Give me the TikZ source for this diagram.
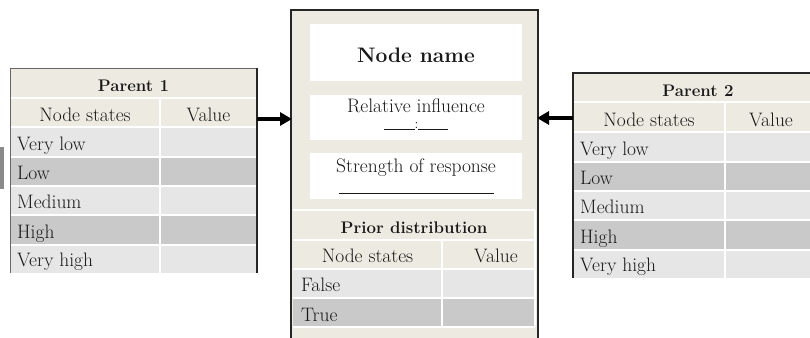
\documentclass[tikz,border=0pt]{standalone}
\usepackage{fontspec}
\usetikzlibrary{arrows.meta}
\definecolor{headfill}{RGB}{237,235,225}
\definecolor{rowlight}{RGB}{230,230,230}
\definecolor{rowdark}{RGB}{201,201,201}
\definecolor{inkcol}{RGB}{25,25,25}
\definecolor{sidegray}{RGB}{138,138,138}
\tikzset{
  txt/.style={font=\fontsize{19.5}{22}\selectfont, text=inkcol, inner sep=0pt, anchor=base},
  lbl/.style={txt, anchor=base west},
  hd/.style={font=\fontsize{16.8}{19}\selectfont\bfseries, text=inkcol, inner sep=0pt, anchor=base},
  sep/.style={draw=white, line width=1.6pt},
  frame/.style={draw=black!85, line width=1.6pt},
  thinframe/.style={draw=black!60, line width=1pt},
  box/.style={inner sep=0pt, outer sep=0pt},
  whitebox/.style={fill=white, inner sep=0pt, outer sep=0pt},
  conn/.style={line width=3.6pt, -{Triangle[length=12pt,width=13pt]}, shorten >=-1pt}
}
\begin{document}
\begin{tikzpicture}[x=1pt,y=-1pt]
\useasboundingbox (0,0) rectangle (810,337);

% small grey bar at the left margin
\fill[sidegray] (0,147) rectangle (4,189);

% ---------------- Parent 1 ----------------
\node[box, minimum width=247pt, minimum height=205pt] (p1) at (133.5,170.5) {};
\fill[headfill] (10,68) rectangle (257,127);
\foreach \ya/\yb/\col/\lab [count=\i] in
  {127/157/rowlight/Very low, 157/186/rowdark/Low, 186/215/rowlight/Medium,
   215/245/rowdark/High, 245/273/rowlight/Very high}{
  \fill[\col] (10,\ya) rectangle (257,\yb);
  \node[lbl] (p1r\i) at (17,\yb-6.5) {\lab};
}
\foreach \y in {98,127,157,186,215,245}
  \draw[sep] (10,\y) -- (257,\y);
\draw[sep] (160,98) -- (160,273);
\node[hd] (p1title) at (133.5,91) {Parent 1};
\node[txt] (p1states) at (85,121.5) {Node states};
\node[txt] (p1value) at (208.5,121.5) {Value};
\draw[thinframe] (10,273) -- (10,68) -- (257,68);
\draw[frame] (257,67.5) -- (257,273);

% ---------------- Parent 2 ----------------
\node[box, minimum width=248pt, minimum height=205pt] (p2) at (697,175.5) {};
\fill[headfill] (573,73) rectangle (821,132);
\foreach \ya/\yb/\col/\lab [count=\i] in
  {132/162/rowlight/Very low, 162/191/rowdark/Low, 191/220/rowlight/Medium,
   220/250/rowdark/High, 250/278/rowlight/Very high}{
  \fill[\col] (573,\ya) rectangle (821,\yb);
  \node[lbl] (p2r\i) at (580,\yb-6.5) {\lab};
}
\foreach \y in {102,132,162,191,220,250}
  \draw[sep] (573,\y) -- (821,\y);
\draw[sep] (725,102) -- (725,278);
\node[hd] (p2title) at (698,96.5) {Parent 2};
\node[txt] (p2states) at (649,126.5) {Node states};
\node[txt] (p2value) at (771,126.5) {Value};
\draw[frame] (573,278) -- (573,73) -- (821,73);

% ---------------- Child node ----------------
\node[box, fill=headfill, minimum width=247pt, minimum height=330pt] (mid) at (414.5,175) {};
\node[whitebox, minimum width=212pt, minimum height=57pt] (namebox) at (416,52.5) {};
\node[whitebox, minimum width=212pt, minimum height=45pt] (inflbox) at (416,117.5) {};
\node[whitebox, minimum width=212pt, minimum height=46pt] (strbox) at (416,176) {};
\node[txt, font=\fontsize{21}{23}\selectfont\bfseries] (nametext) at (416,62.5) {Node name};
\node[txt] (infltext) at (416,112.5) {Relative influence};
\node[txt, font=\fontsize{14}{16}\selectfont] (inflblank) at (416,129.5) {\rule{31pt}{0.8pt}\raisebox{1.5pt}{:}\rule{30pt}{0.8pt}};
\node[txt] (strtext) at (416,172) {Strength of response};
\node[txt] (strblank) at (416,194) {\rule{155pt}{0.8pt}};

% prior distribution table
\fill[headfill] (293,210) rectangle (535,269);
\fill[rowlight] (293,269) rectangle (535,298);
\fill[rowdark] (293,298) rectangle (535,327);
\foreach \y in {210,240,269,298,327}
  \draw[sep] (293,\y) -- (535,\y);
\draw[sep] (442,240) -- (442,327);
\draw[sep] (535,210) -- (535,327);
\node[hd] (priortitle) at (414,233) {Prior distribution};
\node[txt] (mstates) at (367.5,262) {Node states};
\node[txt] (mvalue) at (496,262) {Value};
\node[lbl] (mfalse) at (301,291.5) {False};
\node[lbl] (mtrue) at (301,321) {True};

\draw[frame, line width=2.2pt] (mid.south west) -- (mid.north west) -- (mid.north east) -- (mid.south east);

% ---------------- connectors ----------------
\coordinate (row1) at (0,119);
\coordinate (row2) at (0,118);
\draw[conn] (p1.east |- row1) -- (mid.west |- row1);
\draw[conn] (p2.west |- row2) -- (mid.east |- row2);
\end{tikzpicture}
\end{document}
